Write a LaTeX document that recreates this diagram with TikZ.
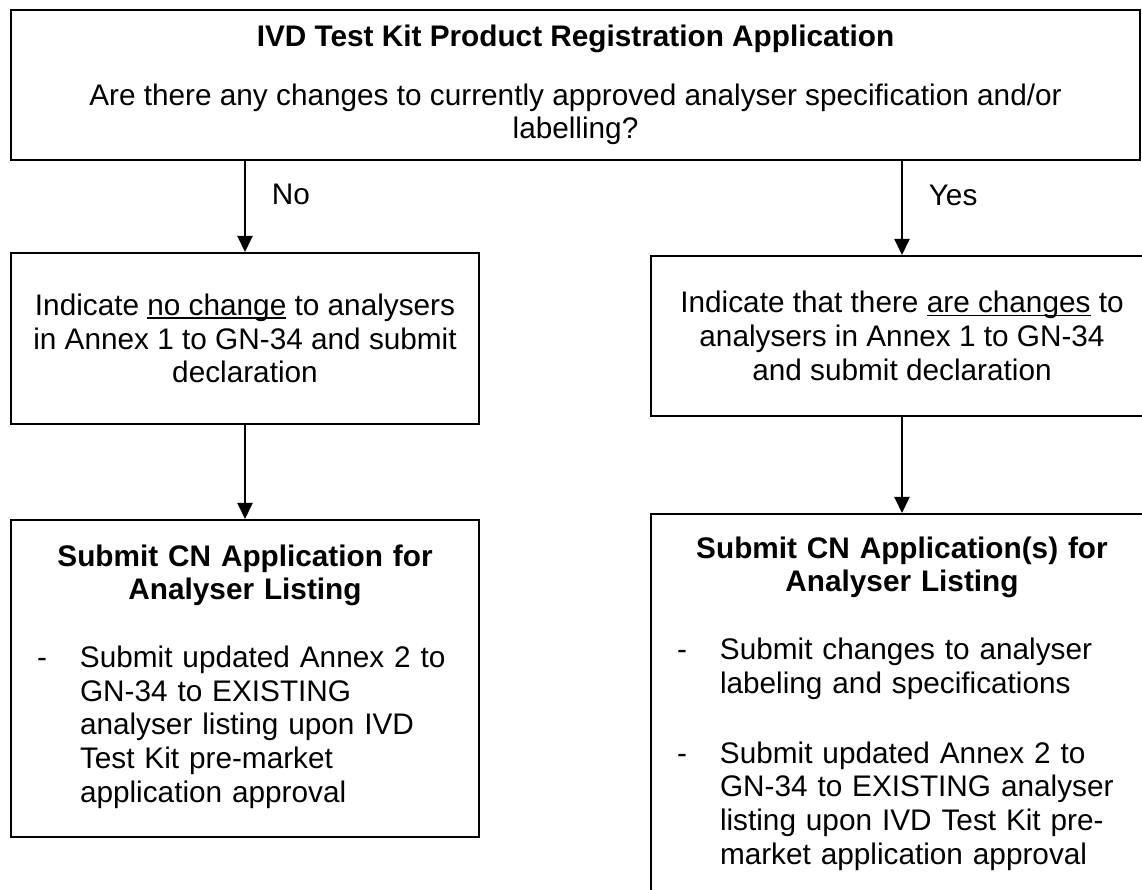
\documentclass[tikz,border=0pt]{standalone}
\usepackage{fontspec}
\setmainfont{Liberation Sans}
\usetikzlibrary{arrows.meta,positioning}
\newcommand{\undl}[1]{\setbox0\hbox{#1}\rlap{\rule[-1.3pt]{\wd0}{0.6pt}}\box0\relax}
\newcommand{\dashitem}[1]{\par\noindent\makebox[17.2pt][l]{-}\begin{tabular}[t]{@{}l@{}}#1\end{tabular}\par}
\tikzset{
	flowbox/.style={rectangle, draw=black, line width=0.8pt, anchor=north west, align=center, font=\fontsize{11.9pt}{13.5pt}\selectfont}
}
\tikzset{
	listbox/.style={flowbox, align=left, inner xsep=10.4pt}
}
\tikzset{
	flowarrow/.style={draw=black, line width=0.8pt, -{Triangle[length=6.4pt,width=6pt]}},
	answer/.style={font=\fontsize{11.9pt}{13.5pt}\selectfont}
}

\begin{document}
\begin{tikzpicture}[x=0.4pt,y=-0.4pt]
			\useasboundingbox (0,0) rectangle (1142,890);
			\clip (0,0) rectangle (1142,890);
			\draw (10,9) node[flowbox, minimum width=451.6pt, minimum height=60pt] (question) {{\bfseries IVD Test Kit Product Registration Application}\\[9.9pt]Are there any changes to currently approved analyser specification and/or\\labelling?};
			\draw (10,252) node[flowbox, minimum width=187.2pt, minimum height=68.4pt] (nochange) {Indicate \undl{no change} to analysers\\in Annex 1 to GN-34 and submit\\declaration};
			\draw (650,255) node[flowbox, minimum width=200.8pt, minimum height=64pt] (changes) {Indicate that there \undl{are changes} to\\analysers in Annex 1 to GN-34\\and submit declaration};
			\draw (10,519) node[listbox, minimum width=187.2pt, minimum height=126.8pt, text width=166.4pt] (cnleft) {{\centering\bfseries Submit CN Application for\\Analyser Listing\par}
				\vspace{\baselineskip}
				\dashitem{Submit updated Annex 2 to\\GN-34 to EXISTING\\analyser listing upon IVD\\Test Kit pre-market\\application approval}};
			\draw (650,513) node[listbox, minimum width=200.8pt, minimum height=153.2pt, text width=180pt] (cnright) {{\centering\bfseries Submit CN Application(s) for\\Analyser Listing\par}
				\vspace{\baselineskip}
				\dashitem{Submit changes to analyser\\labeling and specifications}
				\vspace{\baselineskip}
				\dashitem{Submit updated Annex 2 to\\GN-34 to EXISTING analyser\\listing upon IVD Test Kit pre-\\market application approval}};
			% connectors
			\draw[flowarrow] (question.south -| nochange.north) -- node[answer, pos=0.37, right=7pt] {No} (nochange.north);
			\draw[flowarrow] (question.south -| changes.north) -- node[answer, pos=0.37, right=7pt] {Yes} (changes.north);
			\draw[flowarrow] (nochange.south) -- (cnleft.north);
			\draw[flowarrow] (changes.south) -- (cnright.north);
		\end{tikzpicture}
\end{document}
